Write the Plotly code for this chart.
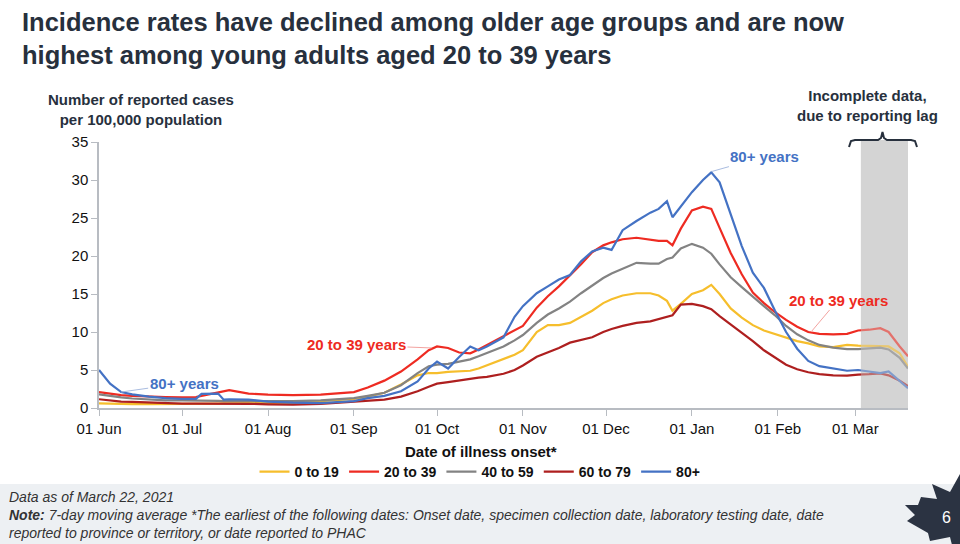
import plotly.graph_objects as go

# ---------------- data ----------------
dates = [
    "2020-06-01", "2020-06-05", "2020-06-09", "2020-06-13", "2020-06-19", "2020-06-25",
    "2020-07-01", "2020-07-06", "2020-07-08", "2020-07-14", "2020-07-16", "2020-07-18",
    "2020-07-25", "2020-08-01", "2020-08-10", "2020-08-20", "2020-09-01", "2020-09-06",
    "2020-09-12", "2020-09-18", "2020-09-24", "2020-09-28", "2020-10-01", "2020-10-05",
    "2020-10-09", "2020-10-13", "2020-10-16", "2020-10-19", "2020-10-25", "2020-10-29",
    "2020-11-01", "2020-11-06", "2020-11-10", "2020-11-14", "2020-11-18", "2020-11-22",
    "2020-11-26", "2020-11-30", "2020-12-03", "2020-12-07", "2020-12-12", "2020-12-17",
    "2020-12-20", "2020-12-23", "2020-12-25", "2020-12-28", "2021-01-01", "2021-01-05",
    "2021-01-08", "2021-01-11", "2021-01-15", "2021-01-19", "2021-01-23", "2021-01-27",
    "2021-01-31", "2021-02-04", "2021-02-08", "2021-02-12", "2021-02-16", "2021-02-21",
    "2021-02-26", "2021-03-02", "2021-03-06", "2021-03-10", "2021-03-13", "2021-03-17",
    "2021-03-20",
]

age_0_19 = [
    0.6, 0.55, 0.5, 0.5, 0.5, 0.5, 0.5, 0.55, 0.55, 0.58, 0.6, 0.6,
    0.6, 0.62, 0.68, 0.9, 1.2, 1.5, 2.0, 3.1, 4.3, 4.6, 4.6, 4.75,
    4.8, 4.9, 5.2, 5.6, 6.5, 7.0, 7.6, 10.0, 10.9, 10.9, 11.2, 12.0,
    12.8, 13.8, 14.3, 14.8, 15.1, 15.1, 14.8, 14.1, 12.8, 13.7, 15.0, 15.5,
    16.2, 15.0, 13.1, 11.9, 10.9, 10.2, 9.7, 9.2, 8.8, 8.5, 8.1, 8.0,
    8.3, 8.2, 8.15, 8.15, 8.1, 7.2, 5.4,
]

age_20_39 = [
    2.1, 1.9, 1.7, 1.6, 1.5, 1.45, 1.4, 1.45, 1.6, 2.1, 2.25, 2.35,
    1.9, 1.75, 1.7, 1.75, 2.1, 2.7, 3.6, 4.8, 6.4, 7.6, 8.1, 7.9,
    7.3, 7.2, 7.7, 8.3, 9.4, 10.2, 10.8, 13.2, 14.7, 16.0, 17.4, 18.9,
    20.5, 21.4, 21.8, 22.2, 22.4, 22.2, 22.0, 22.0, 21.4, 23.6, 26.0, 26.5,
    26.2, 23.7, 20.4, 17.6, 15.2, 13.8, 12.6, 11.6, 10.7, 10.0, 9.75, 9.7,
    9.75, 10.2, 10.3, 10.5, 10.0, 8.1, 6.8,
]

age_40_59 = [
    1.8, 1.55, 1.4, 1.25, 1.1, 1.0, 1.0, 1.0, 1.0, 0.95, 0.9, 0.9,
    0.9, 0.9, 0.9, 1.0, 1.3, 1.6, 2.0, 3.0, 4.6, 5.5, 5.7, 5.8,
    6.1, 6.4, 6.8, 7.2, 8.1, 8.9, 9.6, 11.2, 12.3, 13.1, 14.0, 15.1,
    16.1, 17.1, 17.7, 18.3, 19.1, 19.0, 19.0, 19.6, 19.8, 21.0, 21.6, 21.1,
    20.3, 18.9, 17.2, 15.9, 14.6, 13.4, 12.2, 10.8, 9.7, 8.9, 8.3, 7.95,
    7.75, 7.75, 7.85, 7.95, 7.7, 6.6, 5.2,
]

age_60_79 = [
    1.15, 1.0, 0.85, 0.8, 0.7, 0.6, 0.58, 0.58, 0.58, 0.58, 0.58, 0.58,
    0.55, 0.48, 0.45, 0.55, 0.8, 0.95, 1.1, 1.5, 2.2, 2.8, 3.2, 3.4,
    3.65, 3.8, 4.0, 4.1, 4.5, 5.0, 5.6, 6.75, 7.3, 7.9, 8.6, 8.9,
    9.3, 10.0, 10.4, 10.8, 11.2, 11.4, 11.7, 12.1, 12.2, 13.6, 13.7, 13.4,
    13.0, 12.1, 11.0, 10.0, 8.8, 7.6, 6.6, 5.7, 5.1, 4.7, 4.45, 4.3,
    4.25, 4.4, 4.45, 4.55, 4.3, 3.6, 2.9,
]

age_80_plus = [
    5.0, 3.2, 2.1, 1.8, 1.5, 1.3, 1.2, 1.2, 1.85, 1.9, 1.1, 1.15,
    1.1, 0.85, 0.7, 0.65, 0.9, 1.3, 1.6, 2.2, 3.5, 5.2, 6.1, 5.2,
    6.7, 8.1, 7.6, 8.1, 9.3, 12.0, 13.4, 15.1, 16.0, 16.9, 17.5, 19.3,
    20.6, 21.1, 20.8, 23.4, 24.6, 25.7, 26.2, 27.2, 25.1, 26.5, 28.4, 30.0,
    31.0, 29.7, 25.5, 21.3, 17.8, 15.8, 12.8, 10.0, 7.8, 6.2, 5.5, 5.2,
    4.9, 5.0, 4.8, 4.6, 4.8, 3.6, 2.6,
]

series_names = ["0 to 19", "20 to 39", "40 to 59", "60 to 79", "80+"]
series_values = [age_0_19, age_20_39, age_40_59, age_60_79, age_80_plus]
series_colors = ["#F6BE2C", "#EE2B22", "#838383", "#AE1F1F", "#4472C4"]

y_ticks = [0, 5, 10, 15, 20, 25, 30, 35]
incomplete_start = "2021-03-03"
x_start, x_end = "2020-06-01", "2021-03-20"

# ---------------- layout helpers (pixels -> paper) ----------------
L, R, T, B = 99, 908, 142, 408


def px(x):
    return (x - L) / (R - L)


def py(y):
    return (B - y) / (B - T)


DARK = "#27303D"
FONT = "Liberation Sans, Arial, sans-serif"

fig = go.Figure()
for name, vals, color in zip(series_names, series_values, series_colors):
    fig.add_trace(go.Scatter(
        x=dates, y=vals, mode="lines", name=f"<b>{name}</b>",
        line=dict(color=color, width=2.2), hoverinfo="skip",
    ))

shapes = []
# footer band
shapes.append(dict(type="rect", xref="paper", yref="paper",
                   x0=px(0), x1=px(960), y0=py(484), y1=py(546),
                   fillcolor="#EDF0F3", line=dict(width=0), layer="below"))
# incomplete data band (below and faded overlay above)
shapes.append(dict(type="rect", xref="x", yref="paper",
                   x0=incomplete_start, x1=x_end, y0=0, y1=py(140),
                   fillcolor="#D4D4D4", line=dict(width=0), layer="below"))
shapes.append(dict(type="rect", xref="x", yref="paper",
                   x0=incomplete_start, x1=x_end, y0=0, y1=py(140),
                   fillcolor="rgba(212,212,212,0.42)", line=dict(width=0), layer="above"))

# curly brace
brace_pts = [(849, 147), (851, 141), (855, 140), (878, 140), (881, 138), (882.5, 132),
             (884, 138), (887, 140), (911, 140), (915, 141), (917, 147)]
path = "M " + " L ".join(f"{px(a):.5f},{py(b):.5f}" for a, b in brace_pts)
shapes.append(dict(type="path", xref="paper", yref="paper", path=path,
                   line=dict(color=DARK, width=2)))

# maple leaf
leaf = [(960, 474), (950, 492), (932, 484), (937, 499), (921, 497), (918, 505),
        (905, 505), (915, 515), (907, 521), (928, 533), (930, 541), (950, 537),
        (952, 545), (960, 545)]
leaf_path = "M " + " L ".join(f"{px(a):.5f},{py(b):.5f}" for a, b in leaf) + " Z"
shapes.append(dict(type="path", xref="paper", yref="paper", path=leaf_path,
                   fillcolor="#2B3342", line=dict(width=0)))

annotations = []
# title
annotations.append(dict(
    xref="paper", yref="paper", x=px(20), y=py(38), xanchor="left", yanchor="middle",
    text="<b>Incidence rates have declined among older age groups and are now<br>"
         "highest among young adults aged 20 to 39 years</b>",
    showarrow=False, align="left", font=dict(size=25.5, color=DARK, family=FONT)))
# y axis title
annotations.append(dict(
    xref="paper", yref="paper", x=px(141), y=py(109), xanchor="center", yanchor="middle",
    text="<b>Number of reported cases<br>per 100,000 population</b>",
    showarrow=False, align="center", font=dict(size=15, color=DARK, family=FONT)))
# incomplete data text
annotations.append(dict(
    xref="paper", yref="paper", x=px(867), y=py(106), xanchor="center", yanchor="middle",
    text="<b>Incomplete data,<br>due to reporting lag</b>",
    showarrow=False, align="center", font=dict(size=15, color=DARK, family=FONT)))
# x axis title
annotations.append(dict(
    xref="paper", yref="paper", x=px(481), y=py(452), xanchor="center", yanchor="middle",
    text="<b>Date of illness onset*</b>",
    showarrow=False, font=dict(size=15, color="#111111", family=FONT)))
# series labels
annotations.append(dict(
    x="2021-01-08", y=31.1, text="<b>80+ years</b>", ax=53, ay=-15,
    showarrow=True, arrowhead=0, arrowwidth=1, arrowcolor="#A9BCE0",
    font=dict(size=15, color="#4472C4", family=FONT)))
annotations.append(dict(
    x="2020-06-09", y=2.1, text="<b>80+ years</b>", ax=63, ay=-9,
    showarrow=True, arrowhead=0, arrowwidth=1, arrowcolor="#A9BCE0",
    font=dict(size=15, color="#4472C4", family=FONT)))
annotations.append(dict(
    x="2020-09-29", y=7.9, text="<b>20 to 39 years</b>", ax=-75, ay=-3,
    showarrow=True, arrowhead=0, arrowwidth=1, arrowcolor="#F3A3A0",
    font=dict(size=15, color="#EE2B22", family=FONT)))
annotations.append(dict(
    x="2021-02-13", y=10.0, text="<b>20 to 39 years</b>", ax=27, ay=-32,
    showarrow=True, arrowhead=0, arrowwidth=1, arrowcolor="#F3A3A0",
    font=dict(size=15, color="#EE2B22", family=FONT)))
# footer text
annotations.append(dict(
    xref="paper", yref="paper", x=px(7), y=py(515), xanchor="left", yanchor="middle",
    text="<i>Data as of March 22, 2021<br><b>Note:</b> 7-day moving average *The earliest of the "
         "following dates: Onset date, specimen collection date, laboratory testing date, date<br>"
         "reported to province or territory, or date reported to PHAC</i>",
    showarrow=False, align="left",
    font=dict(size=14, color="#333333", family=FONT)))
# page number
annotations.append(dict(
    xref="paper", yref="paper", x=px(946), y=py(517), xanchor="center", yanchor="middle",
    text="6", showarrow=False, font=dict(size=16, color="white", family=FONT)))

fig.update_layout(
    width=960, height=544,
    margin=dict(l=L, r=960 - R, t=T, b=544 - B, pad=0),
    paper_bgcolor="white", plot_bgcolor="white",
    font=dict(family=FONT, color="#111111"),
    showlegend=True,
    legend=dict(orientation="h", x=px(480), y=py(472), xanchor="center", yanchor="middle",
                font=dict(size=14, color="#111111", family=FONT),
                itemwidth=30, tracegroupgap=0, bgcolor="rgba(0,0,0,0)"),
    xaxis=dict(range=[x_start, x_end], type="date", tick0="2020-06-01", dtick="M1",
               tickformat="%d %b", showgrid=False, zeroline=False,
               showline=True, linecolor="#B8BCC2", linewidth=1.5,
               ticks="outside", ticklen=6, tickcolor="#B8BCC2",
               tickfont=dict(size=15, color="#111111", family=FONT)),
    yaxis=dict(range=[0, 35], tickvals=y_ticks, showgrid=False, zeroline=False,
               showline=True, linecolor="#B8BCC2", linewidth=1.5,
               ticks="outside", ticklen=6, tickcolor="#B8BCC2",
               tickfont=dict(size=15, color="#111111", family=FONT)),
    shapes=shapes, annotations=annotations,
)

fig.write_html("out.html", config={"displayModeBar": False},
               post_script="document.body.style.margin='0px';")
